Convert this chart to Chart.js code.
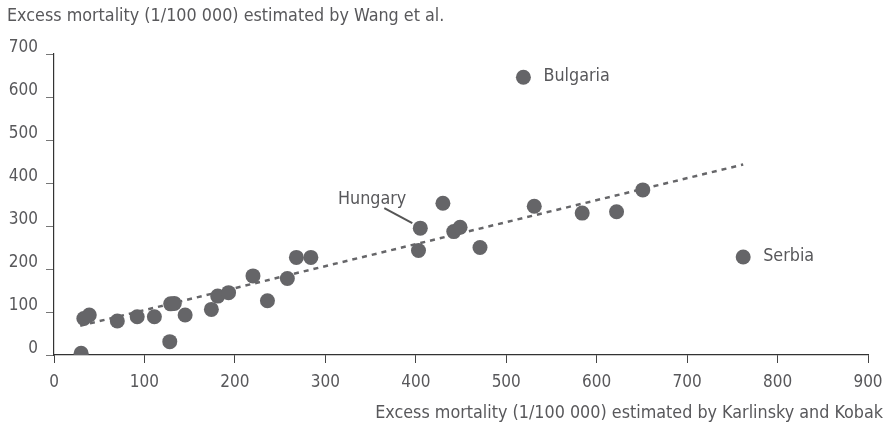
<!DOCTYPE html>
<html>
<head>
<meta charset="utf-8">
<script src="https://cdn.jsdelivr.net/npm/chart.js@4/dist/chart.umd.min.js"></script>
<style>
  html, body { margin: 0; padding: 0; background: #fff; }
  #wrap { width: 887px; height: 426px; }
</style>
</head>
<body>
<div id="wrap"><canvas id="c" width="887" height="426"></canvas></div>
<script>
// Excess mortality per 100 000: Karlinsky & Kobak (x) vs Wang et al. (y)
const karlinskyKobak = [30, 33, 39, 70, 92, 111, 129, 133, 128, 145, 174, 181, 193, 220, 236, 258, 268, 284, 405, 403, 430, 442, 449, 471, 519, 531, 584, 622, 651, 762];
const wangEtAl       = [4, 85, 93, 79, 89, 89, 119, 120, 31, 93, 106, 137, 145, 184, 126, 178, 227, 227, 295, 243, 353, 287, 297, 250, 646, 346, 330, 333, 384, 228];

// Named countries and their position in the arrays above
const namedCountries = ['Hungary', 'Bulgaria', 'Serbia'];
const namedIndex     = [18, 24, 29];

// Fitted trend line end points
const trendX = [29, 762];
const trendY = [68, 443];

const xTicks = [0, 100, 200, 300, 400, 500, 600, 700, 800, 900];
const yTicks = [0, 100, 200, 300, 400, 500, 600, 700];

const xTitle = 'Excess mortality (1/100 000) estimated by Karlinsky and Kobak';
const yTitle = 'Excess mortality (1/100 000) estimated by Wang et al.';

const FONT = "'Liberation Sans Narrow', 'DejaVu Sans Condensed', 'Roboto', sans-serif";
const TEXT = '#58585b';
const DOT = '#656568';

const points = karlinskyKobak.map((x, i) => ({ x, y: wangEtAl[i] }));
const trend = trendX.map((x, i) => ({ x, y: trendY[i] }));

const annotate = {
  id: 'annotate',
  afterDatasetsDraw(chart) {
    const ctx = chart.ctx;
    const meta = chart.getDatasetMeta(0);
    ctx.save();
    ctx.fillStyle = TEXT;
    ctx.font = '17.8px ' + FONT;
    ctx.textBaseline = 'middle';
    namedCountries.forEach((name, k) => {
      const el = meta.data[namedIndex[k]];
      const px = el.x, py = el.y;
      if (name === 'Hungary') {
        ctx.textAlign = 'right';
        ctx.fillText(name, px - 14, py - 29);
        ctx.strokeStyle = '#555';
        ctx.lineWidth = 2;
        ctx.beginPath();
        ctx.moveTo(px - 36, py - 20);
        ctx.lineTo(px - 8, py - 5);
        ctx.stroke();
      } else {
        ctx.textAlign = 'left';
        ctx.fillText(name, px + 20, py - 1);
      }
    });
    // axis titles
    ctx.textAlign = 'left';
    ctx.fillText(yTitle, 7, 16);
    ctx.textAlign = 'right';
    ctx.fillText(xTitle, chart.width - 4, 413);
    ctx.restore();
  }
};

new Chart(document.getElementById('c'), {
  type: 'scatter',
  data: {
    datasets: [
      {
        data: points,
        backgroundColor: DOT,
        borderColor: DOT,
        borderWidth: 0,
        pointRadius: 7.5,
        pointHoverRadius: 7.5,
        order: 0
      },
      {
        type: 'line',
        data: trend,
        borderColor: '#666669',
        borderWidth: 2.5,
        borderDash: [5, 5],
        pointRadius: 0,
        fill: false,
        order: 1
      }
    ]
  },
  options: {
    responsive: false,
    animation: false,
    events: [],
    layout: { padding: { left: 7, top: 54, right: 19, bottom: 0 } },
    plugins: { legend: { display: false }, tooltip: { enabled: false }, title: { display: false } },
    scales: {
      x: {
        type: 'linear',
        min: 0, max: 900,
        afterBuildTicks: s => { s.ticks = xTicks.map(v => ({ value: v })); },
        afterFit: s => { s.height = 71; s.paddingLeft = 0; s.paddingRight = 0; },
        ticks: { color: TEXT, font: { family: FONT, size: 17 }, padding: 9, maxRotation: 0 },
        grid: { display: true, drawOnChartArea: false, drawTicks: true, tickLength: 8, color: '#444' },
        border: { display: true, color: '#333', width: 1.2 }
      },
      y: {
        type: 'linear',
        min: 0, max: 700,
        afterBuildTicks: s => { s.ticks = yTicks.map(v => ({ value: v })); },
        afterFit: s => { s.width = 47; },
        ticks: { color: TEXT, font: { family: FONT, size: 17 }, padding: 8, labelOffset: -6 },
        grid: { display: true, drawOnChartArea: false, drawTicks: true, tickLength: 8, color: '#777' },
        border: { display: true, color: '#333', width: 1.2 }
      }
    }
  },
  plugins: [annotate]
});
</script>
</body>
</html>
